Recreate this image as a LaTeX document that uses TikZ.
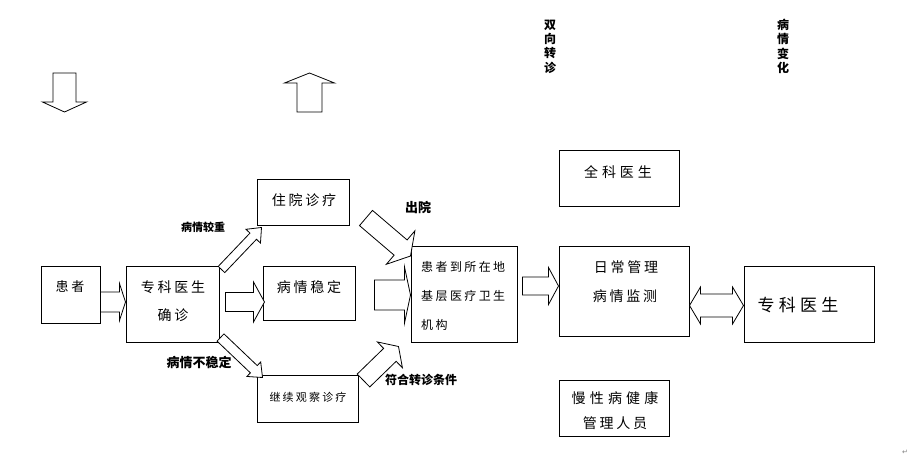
\documentclass[tikz,border=0pt]{standalone}
\usepackage{fontspec}
\setmainfont{Noto Sans CJK SC}
\newfontfamily\dejavu{DejaVu Sans}
\usetikzlibrary{calc}
\tikzset{
  box/.style={draw, line width=1pt, fill=white, inner sep=0pt},
  barrow/.style={draw, line width=0.8pt, fill=white, line join=miter},
  tx/.style={inner sep=0pt, font=\fontsize{#1}{#1}\selectfont\addfontfeatures{LetterSpace=20}},
  txw/.style={inner sep=0pt, font=\fontsize{#1}{#1}\selectfont\addfontfeatures{LetterSpace=28}},
  lb/.style={inner sep=0pt, font=\fontsize{#1}{#1}\selectfont\bfseries},
  vt/.style={inner sep=0pt, align=center, font=\fontsize{12}{14.3}\selectfont\bfseries}
}
\newcommand\blockarr[5]{%
  \coordinate (ba-b) at ($(#2)!#5pt!(#1)$);
  \draw[barrow] ($(#1)!#3pt!90:(#2)$) -- ($(ba-b)!#3pt!90:(#2)$) -- ($(ba-b)!#4pt!90:(#2)$) -- (#2)
    -- ($(ba-b)!#4pt!-90:(#2)$) -- ($(ba-b)!#3pt!-90:(#2)$) -- ($(#1)!#3pt!-90:(#2)$) -- cycle;}
\newcommand\dblarr[5]{%
  \coordinate (da-a) at ($(#1)!#5pt!(#2)$);
  \coordinate (da-b) at ($(#2)!#5pt!(#1)$);
  \draw[barrow] (#1) -- ($(da-a)!#4pt!90:(#2)$) -- ($(da-a)!#3pt!90:(#2)$) -- ($(da-b)!#3pt!-90:(#1)$)
    -- ($(da-b)!#4pt!-90:(#1)$) -- (#2) -- ($(da-b)!#4pt!90:(#1)$) -- ($(da-b)!#3pt!90:(#1)$)
    -- ($(da-a)!#3pt!-90:(#2)$) -- ($(da-a)!#4pt!-90:(#2)$) -- cycle;}
\begin{document}
\begin{tikzpicture}[x=1pt,y=-1pt]
\useasboundingbox (0,0) rectangle (914,462);

% boxes
\node[box, minimum width=59pt, minimum height=57pt] (p) at (70.5,295.5) {};
\node[box, minimum width=93pt, minimum height=76pt] (zk) at (172.5,305) {};
\node[box, minimum width=92pt, minimum height=46pt] (zy) at (303,203) {};
\node[box, minimum width=92pt, minimum height=54pt] (wd) at (309,294) {};
\node[box, minimum width=101pt, minimum height=47pt] (jx) at (307.5,399.5) {};
\node[box, minimum width=106pt, minimum height=96pt] (jc) at (464,295) {};
\node[box, minimum width=130pt, minimum height=90pt] (rc) at (624,292) {};
\node[box, minimum width=130pt, minimum height=76pt] (zk2) at (809,305) {};
\node[box, minimum width=120pt, minimum height=56pt] (qk) at (619,179) {};
\node[box, minimum width=110pt, minimum height=56pt] (mx) at (614,409) {};

% box texts
\node[tx=13] (tp) at (70,287) {患者};
\node[tx=14] (tzk1) at (173,287) {专科医生};
\node[tx=14] (tzk2) at (173,315) {确诊};
\node[tx=14] (tzy) at (304,200) {住院诊疗};
\node[tx=14] (twd) at (309,287) {病情稳定};
\node[tx=11] (tjx) at (308,397) {继续观察诊疗};
\node[tx=12, anchor=west] (tjc1) at (421,267) {患者到所在地};
\node[tx=12, anchor=west] (tjc2) at (421,296) {基层医疗卫生};
\node[tx=12, anchor=west] (tjc3) at (421,325) {机构};
\node[txw=14] (tqk) at (618,172) {全科医生};
\node[tx=14] (trc1) at (626,267) {日常管理};
\node[tx=14] (trc2) at (625,296) {病情监测};
\node[inner sep=0pt, font=\fontsize{17}{17}\selectfont\addfontfeatures{LetterSpace=25}] (tzk3) at (798,305) {专科医生};
\node[inner sep=0pt, font=\fontsize{14}{14}\selectfont\addfontfeatures{LetterSpace=30}] (tmx1) at (615,398) {慢性病健康};
\node[tx=14] (tmx2) at (615,423) {管理人员};

% bold labels
\node[lb=11] (l1) at (203,227) {病情较重};
\node[lb=13] (l2) at (199,362) {病情不稳定};
\node[lb=13] (l3) at (418,207) {出院};
\node[lb=12] (l4) at (421,380) {符合转诊条件};
\node[vt] (v1) at (550,46.5) {双\\向\\转\\诊};
\node[vt] (v2) at (783,46.5) {病\\情\\变\\化};

% block arrows
\coordinate (a1s) at ($(p.east)+(0,6.5)$);
\coordinate (a1t) at ($(zk.west)+(0,-3)$);
\blockarr{a1s}{a1t}{10}{18.5}{6}
\coordinate (a2s) at ($(zk.east)+(6,-3)$);
\coordinate (a2t) at ($(wd.west)+(2,8)$);
\blockarr{a2s}{a2t}{9.5}{20}{11}
\coordinate (a3s) at ($(zk.north east)+(2,3)$);
\coordinate (a3t) at ($(zy.south west)+(5,1)$);
\blockarr{a3s}{a3t}{4.5}{10}{12}
\coordinate (a4s) at ($(zk.south east)+(1,-6)$);
\coordinate (a4t) at ($(jx.north west)+(6,2)$);
\blockarr{a4s}{a4t}{5}{10}{12}
\coordinate (a5s) at (366,218);
\coordinate (a5t) at ($(jc.west)+(0,-39)$);
\blockarr{a5s}{a5t}{10}{22}{13}
\coordinate (a6s) at ($(jx.north east)+(5,5)$);
\coordinate (a6t) at ($(jc.south west)+(-12,3)$);
\blockarr{a6s}{a6t}{9}{18}{12}
\coordinate (a7s) at ($(wd.east)+(19,1)$);
\blockarr{a7s}{jc.west}{15}{28}{6}
\coordinate (a8s) at ($(jc.east)+(5,-9)$);
\coordinate (a8t) at ($(rc.west)+(0,-6)$);
\blockarr{a8s}{a8t}{9}{18.5}{10}
\coordinate (a9a) at ($(rc.east)+(0,13.5)$);
\coordinate (a9b) at ($(zk2.west)+(0,0.5)$);
\dblarr{a9a}{a9b}{11.5}{18.5}{11}

% top arrows
\coordinate (d1s) at (64.5,73);
\coordinate (d1t) at (64.5,112);
\blockarr{d1s}{d1t}{11.5}{22}{10}
\coordinate (u1s) at (309.5,112);
\coordinate (u1t) at (309.5,73);
\blockarr{u1s}{u1t}{12.5}{25}{10}

% paragraph mark
\node[inner sep=0pt, text=gray, font=\dejavu\fontsize{7}{7}\selectfont] (pm) at (905,452) {↵};
\end{tikzpicture}
\end{document}
